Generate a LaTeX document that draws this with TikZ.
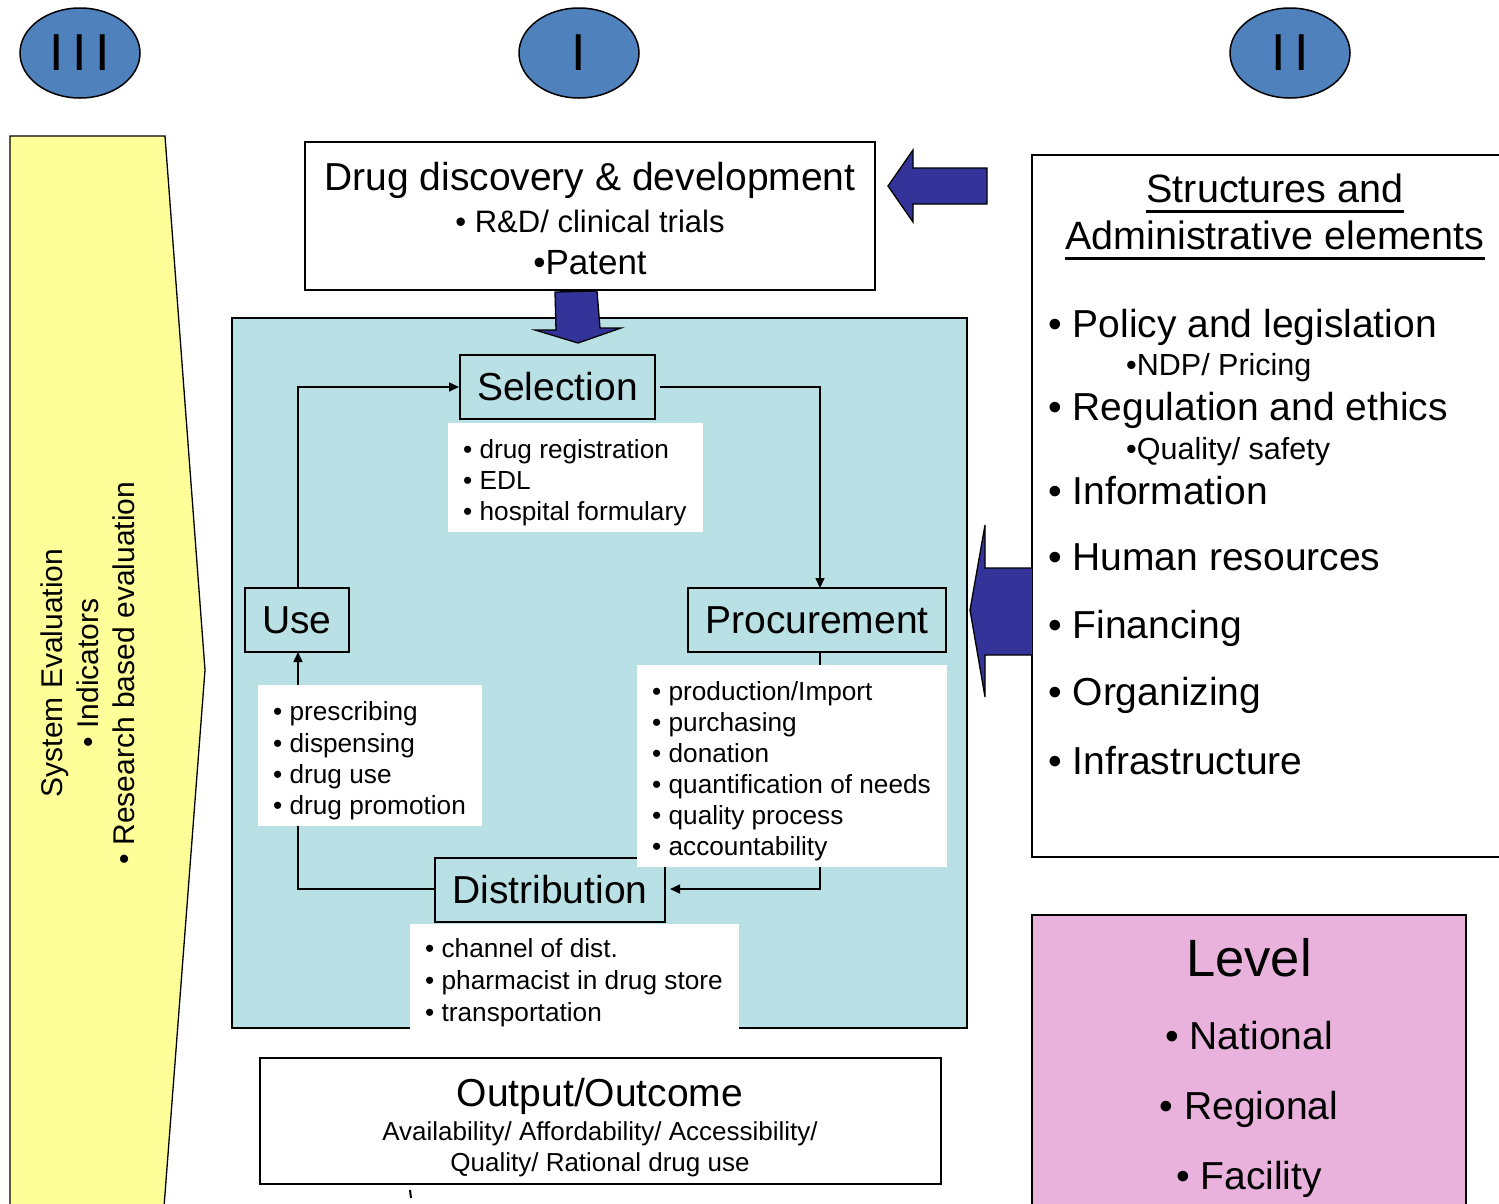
\documentclass[tikz,border=0pt]{standalone}
\usepackage{fontspec}
\setmainfont{Liberation Sans}
\usetikzlibrary{arrows.meta,shapes.geometric}
\definecolor{circblue}{RGB}{79,129,189}
\definecolor{arrblue}{RGB}{51,51,153}
\definecolor{tealbg}{RGB}{185,224,228}
\definecolor{yelbg}{RGB}{255,255,153}
\definecolor{pinkbg}{RGB}{232,178,220}
\newcommand\fsz[1]{\fontsize{#1}{#1}\selectfont}
\tikzset{
  edge/.style={draw=black, line width=1.3pt},
  stagebox/.style={draw=black, line width=1.3pt, inner sep=0pt, font=\fsz{39}},
  txt/.style={inner sep=0pt, text depth=0pt, font=\fsz{#1}},
  listline/.style={anchor=west, inner sep=0pt, text depth=0pt, font=\fsz{26.2}},
  conn/.style={line width=1.6pt, -{Triangle[length=10pt,width=9pt]}},
  roman/.style={ellipse, draw=black, line width=1.5pt, fill=circblue, minimum width=120pt, minimum height=90pt, inner sep=0pt, font=\fsz{52}},
  bigarrow/.style={draw=black, line width=1.3pt, fill=arrblue, line join=miter},
  rline/.style={anchor=west, inner sep=0pt, text depth=0pt, font=\fsz{39}},
  rsub/.style={anchor=west, inner sep=0pt, text depth=0pt, font=\fsz{30.5}},
}
\begin{document}
\begin{tikzpicture}[x=1pt,y=-1pt]
\useasboundingbox (0,0) rectangle (1499,1203);
\fill[white] (0,0) rectangle (1499,1203);

% roman circles
\node[roman] (c3) at (80,53) {I\,I\,I};
\node[roman] (c1) at (579,53) {I};
\node[roman] (c2) at (1290,53) {I\,I};

% yellow evaluation arrow
\path[edge, fill=yelbg] (10,1220) -- (10,136) -- (165,136) -- (205,670) -- (163,1220);
\node[rotate=90, align=center, font=\fsz{30}, inner sep=0pt] (eval) at (88,673)
  {System Evaluation\\[6pt]• Indicators\\[6pt]• Research based evaluation};

% teal box
\path[edge, fill=tealbg] (232,318) rectangle (967,1028);

% drug discovery box
\path[edge, fill=white] (305,142) rectangle (875,290);
\node[txt=39] (dd) at (590,176) {Drug discovery \& development};
\node[txt=31] (dd2) at (590,221) {• R\&D/ clinical trials};
\node[txt=35] (dd3) at (590,262) {•Patent};

% down arrow
\path[bigarrow] (555,292) -- (597,291) -- (600,328) -- (621,328) -- (578,343) -- (535,330) -- (556,330) -- cycle;

% stage boxes
\node[stagebox, fill=tealbg, minimum width=195pt, minimum height=64pt] (sel) at (557.5,387) {Selection};
\node[stagebox, fill=tealbg, minimum width=104pt, minimum height=64pt] (use) at (297,620) {Use};
\node[stagebox, fill=tealbg, minimum width=258pt, minimum height=64pt, text depth=0pt] (proc) at (817,620) {Procurement};
\node[stagebox, fill=tealbg, minimum width=230pt, minimum height=64pt] (dist) at (550,890) {Distribution};

% connectors
\coordinate (pt) at (820,588);
\coordinate (pb) at (820,652);
\coordinate (ut) at (298,588);
\coordinate (ub) at (298,652);
\coordinate (se) at (660,387);
\coordinate (de) at (670,889);
\coordinate (sw) at (459,387);
\draw[conn] (ut) |- (sw);
\draw[conn] (se) -| (pt);
\draw[conn] (pb) |- (de);
\draw[conn] (dist.west |- de) -| (ub);

% white lists
\fill[white] (448,423) rectangle (703,532);
\node[listline] (s1) at (463,449) {• drug registration};
\node[listline] (s2) at (463,480) {• EDL};
\node[listline] (s3) at (463,511) {• hospital formulary};

\fill[white] (258,685) rectangle (482,826);
\node[listline] (u1) at (273,711) {• prescribing};
\node[listline] (u2) at (273,743) {• dispensing};
\node[listline] (u3) at (273,774) {• drug use};
\node[listline] (u4) at (273,805) {• drug promotion};

\fill[white] (637,665) rectangle (947,867);
\node[listline] (p1) at (652,691) {• production/Import};
\node[listline] (p2) at (652,722) {• purchasing};
\node[listline] (p3) at (652,753) {• donation};
\node[listline] (p4) at (652,784) {• quantification of needs};
\node[listline] (p5) at (652,815) {• quality process};
\node[listline] (p6) at (652,846) {• accountability};

\fill[white] (410,924) rectangle (739,1030);
\node[listline] (d1) at (425,948) {• channel of dist.};
\node[listline] (d2) at (425,980) {• pharmacist in drug store};
\node[listline] (d3) at (425,1012) {• transportation};

% output box
\path[edge, fill=white] (260,1058) rectangle (941,1184);
\node[txt=39] (o1) at (600,1092) {Output/Outcome};
\node[txt=26] (o2) at (600,1131) {Availability/ Affordability/ Accessibility/};
\node[txt=26] (o3) at (600,1162) {Quality/ Rational drug use};
\draw[line width=2pt] (410,1190) -- (411,1198);

% right structures box
\path[edge, fill=white] (1032,155) rectangle (1520,857);
\node[txt=39.5] (r1) at (1275,188) {Structures and};
\node[txt=39.5] (r2) at (1275,235) {Administrative elements};
\draw[line width=2.4pt] (r1.south west) ++(0,9) -- ([yshift=-9pt]r1.south east);
\draw[line width=2.4pt] (r2.south west) ++(0,9) -- ([yshift=-9pt]r2.south east);
\node[rline] (ra) at (1048,323) {• Policy and legislation};
\node[rsub] (rb) at (1126,364) {•NDP/ Pricing};
\node[rline] (rc) at (1048,406) {• Regulation and ethics};
\node[rsub] (rd) at (1126,448) {•Quality/ safety};
\node[rline] (re) at (1048,490) {• Information};
\node[rline] (rf) at (1048,557) {• Human resources};
\node[rline] (rg) at (1048,624) {• Financing};
\node[rline] (rh) at (1048,691) {• Organizing};
\node[rline] (ri) at (1048,760) {• Infrastructure};

% left arrows
\path[bigarrow] (987,168) -- (913,168) -- (913,150) -- (888,186) -- (913,222) -- (913,204) -- (987,204) -- cycle;
\path[bigarrow] (1032,568) -- (985,568) -- (985,525) -- (970,610) -- (985,697) -- (985,655) -- (1032,655);

% level box
\path[edge, fill=pinkbg] (1032,915) rectangle (1466,1220);
\node[txt=52.5] (l0) at (1249,957) {Level};
\node[txt=39] (l1) at (1249,1035) {• National};
\node[txt=39] (l2) at (1249,1105) {• Regional};
\node[txt=39] (l3) at (1249,1175) {• Facility};
\end{tikzpicture}
\end{document}
